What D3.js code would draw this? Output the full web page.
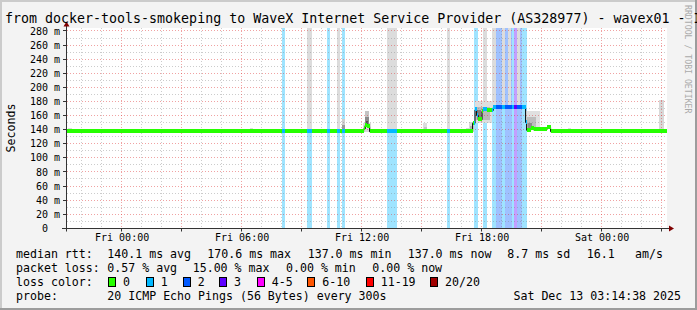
<!DOCTYPE html>
<html>
<head>
<meta charset="utf-8">
<script src="https://cdn.jsdelivr.net/npm/d3@7"></script>
<style>
html, body { margin: 0; padding: 0; background: #f3f3f3; }
svg { display: block; }
text { font-family: "DejaVu Sans Mono", monospace; }
</style>
</head>
<body>
<svg id="chart" width="697" height="310"></svg>
<script>
const titleText = "from docker-tools-smokeping to WaveX Internet Service Provider (AS328977) - wavex01 - I";
const startTime = Date.UTC(2025, 11, 11, 21, 14, 38);
const endTime = Date.UTC(2025, 11, 13, 3, 14, 38);
const fridayMidnight = Date.UTC(2025, 11, 12, 0, 0, 0);

// median rtt as a step series, hours from Fri 00:00 (UTC)
const medianHours = [-2.76, 12.10, 12.18, 12.27, 12.40, 17.55, 17.67, 17.75, 17.83, 18.02, 18.07, 18.27, 18.58, 20.20, 20.25, 20.45, 20.60, 21.25, 21.45, 27.30];
const medianMs    = [137.0, 141,   146,   144,   137,   149,   168,   160,   154,   166,   168,   167,   171,   150,   139,   141,   139.5, 143,   137,   137];

// packet loss periods: [start hour, end hour, lost pings of 20]
const lossSpans = [
  [8.02, 8.17, 1], [9.27, 9.52, 1], [10.27, 10.42, 1], [10.77, 10.92, 1], [11.02, 11.17, 1],
  [13.27, 13.77, 1], [16.27, 16.42, 1], [17.62, 17.82, 1], [18.07, 18.27, 1],
  [18.52, 18.72, 1], [18.72, 19.02, 2], [19.02, 19.17, 1], [19.17, 19.52, 2], [19.52, 19.62, 1],
  [19.62, 19.77, 3], [19.77, 20.00, 2], [20.00, 20.27, 1]
];

// smoke (ping spread): [start hour, end hour, low ms, high ms, grey]
const smokeSpans = [
  [9.27, 9.52, 137, 284, "#dcdcdc"], [10.77, 10.92, 137, 284, "#dcdcdc"],
  [13.27, 13.77, 137, 284, "#dcdcdc"], [16.27, 16.42, 137, 284, "#dcdcdc"],
  [18.07, 18.27, 168, 284, "#dcdcdc"], [18.52, 18.72, 171, 284, "#dcdcdc"],
  [19.02, 19.17, 171, 284, "#dcdcdc"], [19.32, 19.47, 171, 284, "#dcdcdc"],
  [19.77, 19.92, 171, 284, "#dcdcdc"],
  [-2.68, -2.48, 137, 143, "#dddddd"], [6.42, 6.57, 137, 142, "#dddddd"],
  [11.02, 11.17, 137, 155, "#cfcfcf"], [11.02, 11.17, 137, 147, "#9a9a9a"],
  [12.05, 12.45, 137, 150, "#d8d8d8"], [12.18, 12.38, 144, 166, "#c4c4c4"],
  [12.18, 12.38, 144, 158, "#8a8a8a"], [12.22, 12.34, 144, 152, "#505050"],
  [15.07, 15.27, 137, 150, "#dddddd"], [15.10, 15.25, 137, 144, "#c4c4c4"],
  [17.22, 17.37, 137, 143, "#d8d8d8"], [17.35, 17.60, 137, 151, "#d8d8d8"],
  [17.42, 17.58, 137, 145, "#b0b0b0"],
  [17.67, 18.50, 150, 180, "#dedede"], [17.72, 18.40, 154, 172, "#bababa"],
  [17.78, 17.95, 158, 168, "#808080"],
  [20.20, 20.90, 139, 166, "#e0e0e0"], [20.25, 20.70, 139, 158, "#bdbdbd"],
  [20.30, 20.50, 140, 150, "#8a8a8a"],
  [22.32, 22.47, 137, 142, "#dddddd"], [26.85, 27.10, 137, 182, "#d8d8d8"]
];

const lossLabels = ["0", "1", "2", "3", "4-5", "6-10", "11-19", "20/20"];
const lossUpper  = [0, 1, 2, 3, 5, 10, 19, 20];
const lossColors = ["#26ff00", "#00b8ff", "#0059ff", "#5e00ff", "#ff00ff", "#ff5500", "#ff0000", "#a10000"];

const rttStats  = ["140.1 ms avg", "170.6 ms max", "137.0 ms min", "137.0 ms now", "8.7 ms sd", "16.1", "am/s"];
const lossStats = ["0.57 % avg", "15.00 % max", "0.00 % min", "0.00 % now"];
const probeText = "20 ICMP Echo Pings (56 Bytes) every 300s";
const stampText = "Sat Dec 13 03:14:38 2025";

const yTicks = d3.range(0, 281, 20);

const svg = d3.select("#chart");
const W = 697, H = 310;
const plot = { left: 67, right: 667, top: 28, bottom: 228 };

const hDate = h => new Date(fridayMidnight + h * 3600e3);
const x = d3.scaleUtc().domain([startTime, endTime]).range([66.5, 666.5]);
const y = d3.scaleLinear().domain([0, 284.2]).range([228.3, 28]);
const px = v => Math.floor(v) + 0.5;
const lossIndex = n => lossUpper.findIndex(u => n <= u);

// frame
svg.append("rect").attr("width", W).attr("height", H).attr("fill", "#f3f3f3");
svg.append("path").attr("d", `M0,1H${W}M1,0V${H}`).attr("stroke", "#cbcbcb").attr("stroke-width", 2);
svg.append("path").attr("d", `M0,${H - 1}H${W}M${W - 1},0V${H}`).attr("stroke", "#9c9c9c").attr("stroke-width", 2);

svg.append("rect")
    .attr("x", plot.left).attr("y", plot.top)
    .attr("width", plot.right - plot.left).attr("height", plot.bottom - plot.top)
    .attr("fill", "#fff");

svg.append("clipPath").attr("id", "clip")
    .append("rect")
    .attr("x", plot.left).attr("y", plot.top)
    .attr("width", plot.right - plot.left).attr("height", plot.bottom - plot.top);

const g = svg.append("g").attr("clip-path", "url(#clip)");

// loss background
g.append("g").attr("shape-rendering", "crispEdges")
    .selectAll("rect").data(lossSpans).join("rect")
    .attr("x", d => x(hDate(d[0])))
    .attr("width", d => x(hDate(d[1])) - x(hDate(d[0])))
    .attr("y", plot.top).attr("height", plot.bottom - plot.top)
    .attr("fill", d => lossColors[lossIndex(d[2])])
    .attr("fill-opacity", 0.376);

// smoke
g.append("g").attr("shape-rendering", "crispEdges")
    .selectAll("rect").data(smokeSpans).join("rect")
    .attr("x", d => x(hDate(d[0])))
    .attr("width", d => x(hDate(d[1])) - x(hDate(d[0])))
    .attr("y", d => y(d[3]))
    .attr("height", d => y(d[2]) - y(d[3]))
    .attr("fill", d => d[4]);

// grid
const grid = g.append("g").attr("stroke-dasharray", "1,2").attr("shape-rendering", "crispEdges");
const minorY = d3.range(10, 281, 20);
grid.selectAll("line.gy").data(minorY).join("line")
    .attr("x1", plot.left).attr("x2", plot.right)
    .attr("y1", d => px(y(d))).attr("y2", d => px(y(d)))
    .attr("stroke", "rgba(128,128,128,0.4)");
grid.selectAll("line.my").data(yTicks.slice(1)).join("line")
    .attr("x1", plot.left).attr("x2", plot.right)
    .attr("y1", d => px(y(d))).attr("y2", d => px(y(d)))
    .attr("stroke", "rgba(222,48,48,0.45)");

const hourTicks = x.ticks(d3.utcHour.every(1)).filter(t => t.getUTCHours() % 3 !== 0);
const majorTicks = x.ticks(d3.utcHour.every(3));
grid.selectAll("line.gx").data(hourTicks).join("line")
    .attr("x1", d => px(x(d))).attr("x2", d => px(x(d)))
    .attr("y1", plot.top).attr("y2", plot.bottom)
    .attr("stroke", "rgba(128,128,128,0.4)");
grid.selectAll("line.mx").data(majorTicks).join("line")
    .attr("x1", d => px(x(d))).attr("x2", d => px(x(d)))
    .attr("y1", plot.top).attr("y2", plot.bottom)
    .attr("stroke", "rgba(222,48,48,0.45)");

// median line
const medianPts = medianHours.map((h, i) => [hDate(h), medianMs[i]]);
g.append("path")
    .datum(medianPts)
    .attr("fill", "none").attr("stroke", "#000").attr("stroke-width", 1)
    .attr("d", d3.line().x(d => x(d[0])).y(d => y(d[1])).curve(d3.curveStepAfter));

// median colour bands, split by loss periods
const medianAt = h => medianMs[d3.bisectRight(medianHours, h) - 1];
const lossAt = h => {
    const s = lossSpans.find(s => h >= s[0] && h < s[1]);
    return s ? s[2] : 0;
};
const cuts = Array.from(new Set([...medianHours, ...lossSpans.flatMap(s => [s[0], s[1]])])).sort((a, b) => a - b);
const pieces = d3.pairs(cuts).map(([a, b]) => {
    const m = (a + b) / 2;
    return { a, b, v: medianAt(m), loss: lossAt(m) };
});
g.append("g").attr("shape-rendering", "crispEdges")
    .selectAll("rect").data(pieces).join("rect")
    .attr("x", d => x(hDate(d.a)))
    .attr("width", d => x(hDate(d.b)) - x(hDate(d.a)))
    .attr("y", d => y(d.v) - 2.5)
    .attr("height", 4)
    .attr("fill", d => lossColors[lossIndex(d.loss)]);

// axes
const axisColor = "#333";
const x0 = 66.5, yBase = px(y(0));
svg.append("line").attr("x1", x0).attr("x2", x0).attr("y1", yBase + 3).attr("y2", 25)
    .attr("stroke", axisColor);
svg.append("line").attr("x1", 62).attr("x2", 670).attr("y1", yBase).attr("y2", yBase)
    .attr("stroke", axisColor);
svg.append("path").attr("d", `M${x0},21.5L${x0 + 3},26.5L${x0 - 3},26.5Z`).attr("fill", "#7f0000");
svg.append("path").attr("d", `M674,${yBase}L669,${yBase - 3}L669,${yBase + 3}Z`).attr("fill", "#7f0000");

svg.append("g").selectAll("line").data(yTicks).join("line")
    .attr("x1", 63).attr("x2", x0)
    .attr("y1", d => px(y(d))).attr("y2", d => px(y(d)))
    .attr("stroke", axisColor);
svg.append("g").selectAll("line").data(majorTicks).join("line")
    .attr("x1", d => px(x(d))).attr("x2", d => px(x(d)))
    .attr("y1", yBase).attr("y2", yBase + 3)
    .attr("stroke", axisColor);

svg.append("g").selectAll("text").data(yTicks).join("text")
    .attr("x", 60).attr("y", d => y(d))
    .attr("dy", "0.36em")
    .attr("text-anchor", "end")
    .attr("font-size", 10)
    .style("white-space", "pre")
    .text(d => d === 0 ? "0  " : `${d} m`);

const labelTicks = x.ticks(d3.utcHour.every(6));
const fmt = d3.utcFormat("%a %H:%M");
svg.append("g").selectAll("text").data(labelTicks).join("text")
    .attr("x", d => x(d) + 0.5).attr("y", 241)
    .attr("text-anchor", "middle")
    .attr("font-size", 10)
    .text(d => fmt(d));

svg.append("text")
    .attr("transform", "translate(14.5,128) rotate(-90)")
    .attr("text-anchor", "middle")
    .attr("font-size", 11.6)
    .text("Seconds");

svg.append("text")
    .attr("x", 5).attr("y", 23)
    .attr("font-size", 13.3)
    .text(titleText);

svg.append("text")
    .attr("transform", "translate(684.5,5) rotate(90)")
    .attr("font-size", 8.2)
    .attr("fill", "#aaaaaa")
    .text("RRDTOOL / TOBI OETIKER");

// legend
const legend = svg.append("g").attr("font-size", 11.6).style("white-space", "pre");
const rowY = [258, 272, 286, 299.5];
const rttX = [107.3, 207.3, 307.7, 407.7, 507.3, 586.7, 635];
const lossX = [107.3, 192.7, 286, 372.3];
const swatchX = [108, 145.7, 182.7, 219, 256.7, 307.3, 365.7, 430];

legend.append("text").attr("x", 16).attr("y", rowY[0]).text("median rtt:");
legend.selectAll("text.rtt").data(rttStats).join("text").attr("class", "rtt")
    .attr("x", (d, i) => rttX[i]).attr("y", rowY[0]).text(d => d);

legend.append("text").attr("x", 16).attr("y", rowY[1]).text("packet loss:");
legend.selectAll("text.loss").data(lossStats).join("text").attr("class", "loss")
    .attr("x", (d, i) => lossX[i]).attr("y", rowY[1]).text(d => d);

legend.append("text").attr("x", 16).attr("y", rowY[2]).text("loss color:");
legend.selectAll("rect.sw").data(lossColors).join("rect").attr("class", "sw")
    .attr("x", (d, i) => Math.round(swatchX[i]) + 0.5).attr("y", 277.5)
    .attr("width", 7).attr("height", 9)
    .attr("fill", d => d).attr("stroke", "#000");
legend.selectAll("text.sl").data(lossLabels).join("text").attr("class", "sl")
    .attr("x", (d, i) => swatchX[i] + 15).attr("y", rowY[2]).text(d => d);

legend.append("text").attr("x", 16).attr("y", rowY[3]).text("probe:");
legend.append("text").attr("x", 107.3).attr("y", rowY[3]).text(probeText);
legend.append("text").attr("x", 681).attr("y", rowY[3]).attr("text-anchor", "end").text(stampText);
</script>
</body>
</html>
